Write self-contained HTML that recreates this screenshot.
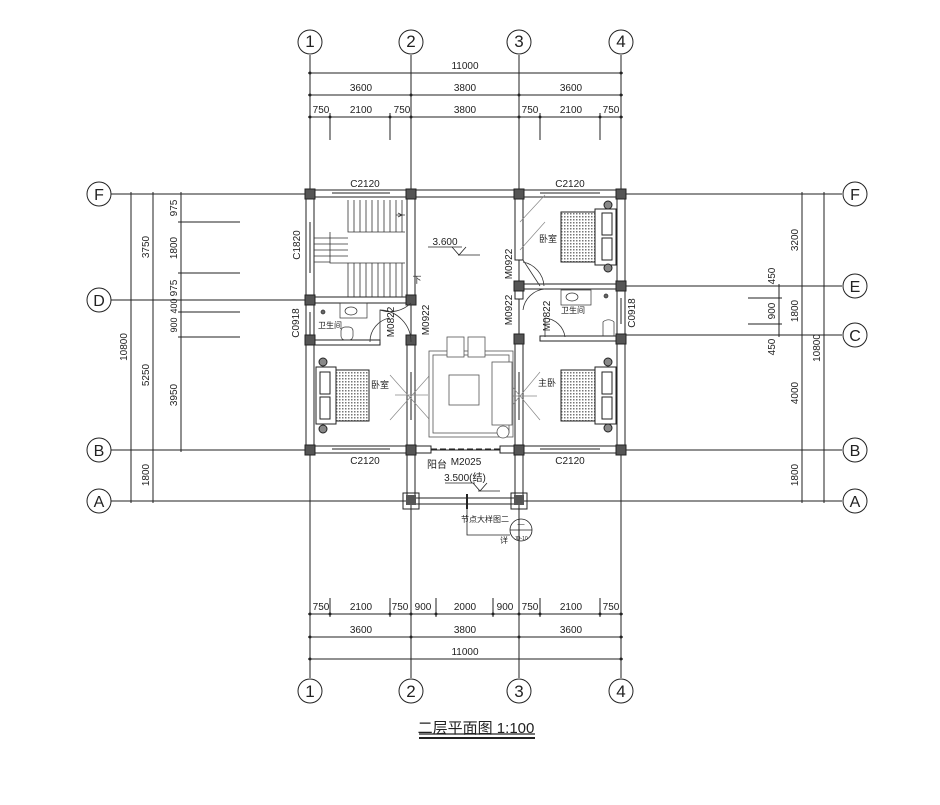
<!DOCTYPE html>
<html><head><meta charset="utf-8"><style>
html,body{margin:0;padding:0;background:#fff;}
svg text{font-family:"Liberation Sans","Noto Sans CJK SC",sans-serif;fill:#222;}
</style></head><body>
<svg width="940" height="800" viewBox="0 0 940 800" xmlns="http://www.w3.org/2000/svg">
<defs>
<pattern id="hatch" width="3" height="3" patternUnits="userSpaceOnUse"><rect width="3" height="3" fill="#fff"/><rect width="1.5" height="1.5" fill="#777"/></pattern>
</defs>
<g stroke="#222" stroke-width="1" fill="none">
<!-- vertical axis lines -->
<line x1="310" y1="55" x2="310" y2="678"/>
<line x1="411" y1="55" x2="411" y2="678"/>
<line x1="519" y1="55" x2="519" y2="678"/>
<line x1="621" y1="55" x2="621" y2="678"/>
<!-- top dims -->
<line x1="308" y1="73" x2="623" y2="73"/>
<line x1="308" y1="95" x2="623" y2="95"/>
<line x1="308" y1="117" x2="623" y2="117"/>
<line x1="330" y1="113" x2="330" y2="140"/><line x1="390" y1="113" x2="390" y2="140"/>
<line x1="540" y1="113" x2="540" y2="140"/><line x1="600" y1="113" x2="600" y2="140"/>
<!-- bottom dims -->
<line x1="308" y1="614" x2="623" y2="614"/>
<line x1="308" y1="637" x2="623" y2="637"/>
<line x1="308" y1="659" x2="623" y2="659"/>
<line x1="330" y1="598" x2="330" y2="617"/><line x1="390" y1="598" x2="390" y2="617"/>
<line x1="436" y1="598" x2="436" y2="617"/><line x1="493" y1="598" x2="493" y2="617"/>
<line x1="540" y1="598" x2="540" y2="617"/><line x1="600" y1="598" x2="600" y2="617"/>
<!-- horizontal axis lines -->
<line x1="111" y1="194" x2="842" y2="194"/>
<line x1="111" y1="300" x2="310" y2="300"/>
<line x1="621" y1="286" x2="842" y2="286"/>
<line x1="621" y1="335" x2="842" y2="335"/>
<line x1="111" y1="450" x2="842" y2="450"/>
<line x1="111" y1="501" x2="842" y2="501"/>
<!-- left dims -->
<line x1="131" y1="192" x2="131" y2="503"/>
<line x1="153" y1="192" x2="153" y2="503"/>
<line x1="181" y1="192" x2="181" y2="452"/>
<line x1="178" y1="222" x2="240" y2="222"/><line x1="178" y1="273" x2="240" y2="273"/>
<line x1="178" y1="312" x2="240" y2="312"/><line x1="178" y1="337" x2="240" y2="337"/>
<!-- right dims -->
<line x1="802" y1="192" x2="802" y2="503"/>
<line x1="824" y1="192" x2="824" y2="503"/>
<line x1="779" y1="284" x2="779" y2="337"/>
<line x1="748" y1="298" x2="782" y2="298"/><line x1="748" y1="324" x2="782" y2="324"/>
<!-- circles -->
<circle cx="310" cy="42" r="12"/><circle cx="411" cy="42" r="12"/><circle cx="519" cy="42" r="12"/><circle cx="621" cy="42" r="12"/>
<circle cx="310" cy="691" r="12"/><circle cx="411" cy="691" r="12"/><circle cx="519" cy="691" r="12"/><circle cx="621" cy="691" r="12"/>
<circle cx="99" cy="194" r="12"/><circle cx="99" cy="300" r="12"/><circle cx="99" cy="450" r="12"/><circle cx="99" cy="501" r="12"/>
<circle cx="855" cy="194" r="12"/><circle cx="855" cy="286" r="12"/><circle cx="855" cy="335" r="12"/><circle cx="855" cy="450" r="12"/><circle cx="855" cy="501" r="12"/>
</g>
<!-- tick dots -->
<g fill="#222">
<circle cx="310" cy="73" r="1.5"/><circle cx="621" cy="73" r="1.5"/>
<circle cx="310" cy="95" r="1.5"/><circle cx="411" cy="95" r="1.5"/><circle cx="519" cy="95" r="1.5"/><circle cx="621" cy="95" r="1.5"/>
<circle cx="310" cy="117" r="1.5"/><circle cx="330" cy="117" r="1.5"/><circle cx="390" cy="117" r="1.5"/><circle cx="411" cy="117" r="1.5"/><circle cx="519" cy="117" r="1.5"/><circle cx="540" cy="117" r="1.5"/><circle cx="600" cy="117" r="1.5"/><circle cx="621" cy="117" r="1.5"/>
<circle cx="310" cy="614" r="1.5"/><circle cx="330" cy="614" r="1.5"/><circle cx="390" cy="614" r="1.5"/><circle cx="411" cy="614" r="1.5"/><circle cx="436" cy="614" r="1.5"/><circle cx="493" cy="614" r="1.5"/><circle cx="519" cy="614" r="1.5"/><circle cx="540" cy="614" r="1.5"/><circle cx="600" cy="614" r="1.5"/><circle cx="621" cy="614" r="1.5"/>
<circle cx="310" cy="637" r="1.5"/><circle cx="411" cy="637" r="1.5"/><circle cx="519" cy="637" r="1.5"/><circle cx="621" cy="637" r="1.5"/>
<circle cx="310" cy="659" r="1.5"/><circle cx="621" cy="659" r="1.5"/>
</g>
<!-- walls -->
<g fill="#fff" stroke="#222" stroke-width="1">
<rect x="306" y="190" width="319" height="7"/>
<rect x="306" y="446" width="106" height="7"/>
<rect x="518" y="446" width="107" height="7"/>
<rect x="306" y="190" width="8" height="263"/>
<rect x="617" y="190" width="8" height="263"/>
<rect x="407" y="190" width="8" height="110"/>
<rect x="407" y="336" width="8" height="117"/>
<rect x="515" y="190" width="8" height="70"/>
<rect x="515" y="287" width="8" height="12"/>
<rect x="515" y="334" width="8" height="119"/>
<rect x="306" y="297" width="109" height="6"/>
<rect x="306" y="340" width="74" height="5"/>
<rect x="519" y="284" width="102" height="5"/>
<rect x="540" y="336" width="81" height="5"/>
<rect x="407" y="453" width="8" height="48"/>
<rect x="515" y="453" width="8" height="48"/>
<rect x="411" y="498" width="108" height="6"/>
<rect x="411" y="446" width="20" height="7"/>
<rect x="500" y="446" width="19" height="7"/>
</g>
<!-- windows (thin double lines) -->
<g stroke="#222" stroke-width="1">
<line x1="332" y1="193" x2="390" y2="193"/><line x1="540" y1="193" x2="600" y2="193"/>
<line x1="332" y1="449" x2="390" y2="449"/><line x1="540" y1="449" x2="600" y2="449"/>
<line x1="310" y1="222" x2="310" y2="273"/><line x1="310" y1="312" x2="310" y2="337"/>
<line x1="621" y1="298" x2="621" y2="324"/>
<line x1="431" y1="449" x2="500" y2="449" stroke-dasharray="6,3"/>
<line x1="411" y1="372" x2="411" y2="420"/><line x1="519" y1="372" x2="519" y2="420"/>
</g>
<!-- columns -->
<g fill="#555" stroke="#222">
<rect x="305" y="189" width="10" height="10"/><rect x="406" y="189" width="10" height="10"/><rect x="514" y="189" width="10" height="10"/><rect x="616" y="189" width="10" height="10"/>
<rect x="305" y="295" width="10" height="10"/><rect x="406" y="295" width="10" height="10"/>
<rect x="616" y="281" width="10" height="10"/><rect x="514" y="281" width="10" height="10"/>
<rect x="616" y="334" width="10" height="10"/><rect x="514" y="334" width="10" height="10"/>
<rect x="305" y="335" width="10" height="10"/><rect x="406" y="335" width="10" height="10"/>
<rect x="305" y="445" width="10" height="10"/><rect x="406" y="445" width="10" height="10"/><rect x="514" y="445" width="10" height="10"/><rect x="616" y="445" width="10" height="10"/>
</g>
<g fill="none" stroke="#222"><rect x="403" y="493" width="16" height="16"/><rect x="511" y="493" width="16" height="16"/></g>
<g fill="#555"><rect x="406" y="495" width="10" height="10"/><rect x="514" y="495" width="10" height="10"/></g>
<line x1="467" y1="494" x2="467" y2="509" stroke="#222" stroke-width="2"/>
<!-- stairs -->
<g stroke="#333" stroke-width="0.8" fill="none">
<path d="M348 200 V232 H405 M330 232 V263 H405 M348 263 V297"/>
<path d="M354 200V232M360 200V232M366 200V232M372 200V232M378 200V232M384 200V232M390 200V232M396 200V232M402 200V232"/>
<path d="M354 263V297M360 263V297M366 263V297M372 263V297M378 263V297M384 263V297M390 263V297M396 263V297M402 263V297"/>
<path d="M314 238H348M314 244H348M314 250H348M314 256H348M314 262H330"/>
<path d="M396 215H405M398 213L402 215L398 217"/>
</g>
<!-- doors -->
<g stroke="#333" stroke-width="0.8" fill="none">
<path d="M380 342 V310 A32 32 0 0 1 411 342"/>
<path d="M411 303 A30 30 0 0 1 380 310" />
<path d="M523 262 A26 26 0 0 1 544 286 M523 260 L540 286"/>
<path d="M523 310 A24 24 0 0 1 545 289"/>
<path d="M545 337 V318 A22 22 0 0 1 565 337"/>
<path d="M370 342 A24 24 0 0 1 390 318"/>
</g>
<!-- window crosses -->
<g stroke="#888" stroke-width="0.7" fill="none">
<path d="M390 375 L430 420 M390 420 L430 375 M395 395 H428"/>
<path d="M500 372 L540 420 M500 420 L540 372 M503 396 H537"/>
<path d="M520 222 L545 195 M545 222 L520 250"/>
</g>
<!-- bathroom left -->
<g stroke="#333" stroke-width="0.7" fill="none">
<rect x="340" y="303" width="27" height="15"/><ellipse cx="351" cy="311" rx="6" ry="4"/>
<rect x="341" y="327" width="12" height="13" rx="4"/>
<circle cx="323" cy="312" r="2" fill="#666"/>
</g>
<!-- bathroom right -->
<g stroke="#333" stroke-width="0.7" fill="none">
<rect x="561" y="290" width="30" height="15"/><ellipse cx="572" cy="297" rx="6" ry="4"/>
<path d="M603 336 V322 A8 8 0 0 1 614 322 V336"/>
<circle cx="606" cy="296" r="2" fill="#666"/>
</g>
<!-- beds -->
<g stroke="#222" stroke-width="1">
<rect x="336" y="370" width="33" height="51" fill="url(#hatch)"/>
<rect x="316" y="367" width="20" height="57" fill="#fff"/>
<rect x="320" y="372" width="10" height="22" fill="#fff"/><rect x="320" y="397" width="10" height="22" fill="#fff"/>
<circle cx="323" cy="362" r="4" fill="#888"/><circle cx="323" cy="429" r="4" fill="#888"/>
<rect x="561" y="212" width="34" height="50" fill="url(#hatch)"/>
<rect x="595" y="209" width="21" height="56" fill="#fff"/>
<rect x="602" y="213" width="10" height="22" fill="#fff"/><rect x="602" y="238" width="10" height="22" fill="#fff"/>
<circle cx="608" cy="205" r="4" fill="#888"/><circle cx="608" cy="268" r="4" fill="#888"/>
<rect x="561" y="370" width="34" height="51" fill="url(#hatch)"/>
<rect x="595" y="367" width="21" height="57" fill="#fff"/>
<rect x="602" y="372" width="10" height="22" fill="#fff"/><rect x="602" y="397" width="10" height="22" fill="#fff"/>
<circle cx="608" cy="362" r="4" fill="#888"/><circle cx="608" cy="428" r="4" fill="#888"/>
</g>
<!-- living furniture -->
<g stroke="#555" stroke-width="0.8" fill="#fff">
<rect x="429" y="351" width="84" height="86"/>
<rect x="433" y="355" width="76" height="78"/>
<rect x="449" y="375" width="30" height="30"/>
<rect x="447" y="337" width="17" height="20"/><rect x="468" y="337" width="17" height="20"/>
<rect x="492" y="362" width="20" height="63"/>
<circle cx="503" cy="432" r="6"/>
</g>
<!-- elevation marks -->
<g stroke="#222" stroke-width="0.8" fill="none">
<line x1="428" y1="247" x2="462" y2="247"/><path d="M452 247 L459 255 L466 247"/><line x1="458" y1="255" x2="480" y2="255"/>
<line x1="445" y1="483" x2="475" y2="483"/><path d="M473 483 L480 491 L487 483"/><line x1="478" y1="491" x2="500" y2="491"/>
<path d="M467 505 V535 H510"/>
<circle cx="521" cy="530" r="11"/><line x1="510" y1="530" x2="532" y2="530"/>
<line x1="419" y1="734" x2="535" y2="734" stroke-width="1.2"/>
<line x1="419" y1="738" x2="535" y2="738" stroke-width="2"/>
</g>
<!-- texts -->
<g font-size="10" text-anchor="middle">
<text x="310" y="47" font-size="17">1</text><text x="411" y="47" font-size="17">2</text><text x="519" y="47" font-size="17">3</text><text x="621" y="47" font-size="17">4</text>
<text x="310" y="697" font-size="17">1</text><text x="411" y="697" font-size="17">2</text><text x="519" y="697" font-size="17">3</text><text x="621" y="697" font-size="17">4</text>
<text x="99" y="200" font-size="16" font-family="Liberation Serif">F</text><text x="99" y="306" font-size="16" font-family="Liberation Serif">D</text><text x="99" y="456" font-size="16" font-family="Liberation Serif">B</text><text x="99" y="507" font-size="16" font-family="Liberation Serif">A</text>
<text x="855" y="200" font-size="16" font-family="Liberation Serif">F</text><text x="855" y="292" font-size="16" font-family="Liberation Serif">E</text><text x="855" y="341" font-size="16" font-family="Liberation Serif">C</text><text x="855" y="456" font-size="16" font-family="Liberation Serif">B</text><text x="855" y="507" font-size="16" font-family="Liberation Serif">A</text>
<text x="465" y="69">11000</text>
<text x="361" y="91">3600</text><text x="465" y="91">3800</text><text x="571" y="91">3600</text>
<text x="321" y="113">750</text><text x="361" y="113">2100</text><text x="402" y="113">750</text><text x="465" y="113">3800</text><text x="530" y="113">750</text><text x="571" y="113">2100</text><text x="611" y="113">750</text>
<text x="321" y="610">750</text><text x="361" y="610">2100</text><text x="400" y="610">750</text><text x="423" y="610">900</text><text x="465" y="610">2000</text><text x="505" y="610">900</text><text x="530" y="610">750</text><text x="571" y="610">2100</text><text x="611" y="610">750</text>
<text x="361" y="633">3600</text><text x="465" y="633">3800</text><text x="571" y="633">3600</text>
<text x="465" y="655">11000</text>
<text x="365" y="187">C2120</text><text x="570" y="187">C2120</text>
<text x="365" y="464">C2120</text><text x="570" y="464">C2120</text>
<text x="445" y="245">3.600</text>
<text x="380" y="388" font-size="9">卧室</text>
<text x="548" y="242" font-size="9">卧室</text>
<text x="547" y="386" font-size="9">主卧</text>
<text x="330" y="328" font-size="8">卫生间</text>
<text x="573" y="313" font-size="8">卫生间</text>
<text x="417" y="283" font-size="9">下</text>
<text x="437" y="468">阳台</text>
<text x="466" y="465">M2025</text>
<text x="465" y="481">3.500(结)</text>
<text x="485" y="522" font-size="8">节点大样图二</text>
<text x="504" y="543" font-size="8">详</text>
<text x="521" y="526" font-size="7">—</text>
<text x="521" y="540" font-size="5">JD-10</text>
<text x="476" y="733" font-size="15" font-family="Liberation Sans,'Noto Sans CJK SC',sans-serif">二层平面图 1:100</text>
</g>
<!-- rotated texts -->
<g font-size="10" text-anchor="middle">
<text transform="translate(300,245) rotate(-90)">C1820</text>
<text transform="translate(299,323) rotate(-90)">C0918</text>
<text transform="translate(635,313) rotate(-90)">C0918</text>
<text transform="translate(429,320) rotate(-90)">M0922</text>
<text transform="translate(394,322) rotate(-90)">M0822</text>
<text transform="translate(512,264) rotate(-90)">M0922</text>
<text transform="translate(512,310) rotate(-90)">M0922</text>
<text transform="translate(550,316) rotate(-90)">M0822</text>
<text transform="translate(127,347) rotate(-90)">10800</text>
<text transform="translate(149,247) rotate(-90)">3750</text>
<text transform="translate(149,375) rotate(-90)">5250</text>
<text transform="translate(149,475) rotate(-90)">1800</text>
<text transform="translate(177,208) rotate(-90)">975</text>
<text transform="translate(177,248) rotate(-90)">1800</text>
<text transform="translate(177,288) rotate(-90)">975</text>
<text transform="translate(177,306) rotate(-90)" font-size="9">400</text>
<text transform="translate(177,325) rotate(-90)" font-size="9">900</text>
<text transform="translate(177,395) rotate(-90)">3950</text>
<text transform="translate(798,240) rotate(-90)">3200</text>
<text transform="translate(798,311) rotate(-90)">1800</text>
<text transform="translate(798,393) rotate(-90)">4000</text>
<text transform="translate(798,475) rotate(-90)">1800</text>
<text transform="translate(820,348) rotate(-90)">10800</text>
<text transform="translate(775,276) rotate(-90)">450</text>
<text transform="translate(775,311) rotate(-90)">900</text>
<text transform="translate(775,347) rotate(-90)">450</text>
</g>
</svg>
</body></html>
